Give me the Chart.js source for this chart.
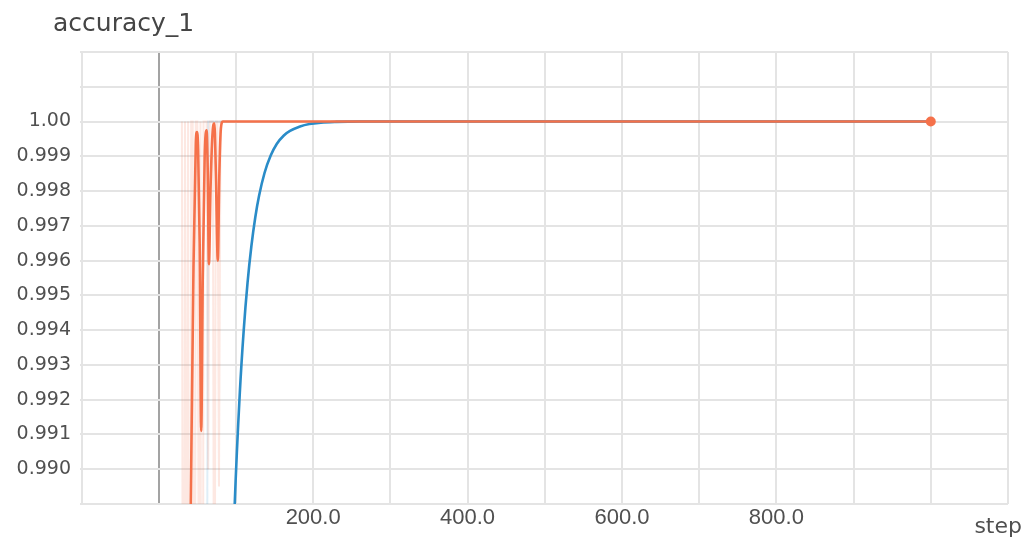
<!DOCTYPE html>
<html>
<head>
<meta charset="utf-8">
<script src="https://cdn.jsdelivr.net/npm/chart.js@4.4.1/dist/chart.umd.min.js"></script>
<style>
html,body{margin:0;padding:0;background:#fff;overflow:hidden}
#wrap{width:1030px;height:543px;position:relative}
</style>
</head>
<body>
<div id="wrap"><canvas id="c" width="1030" height="543"></canvas></div>
<script>
// ---- data ----
const chartTitle = 'accuracy_1';
const xAxisLabel = 'step';

// smoothed orange run
const redSteps  = [36, 41.5, 45, 48, 49.5, 51, 53, 55, 57, 59.5, 62, 63.5, 65, 67, 69.5, 72, 74, 76.5, 78.5, 80.5, 83, 90, 100, 200, 300, 400, 500, 600, 700, 800, 900, 1000];
const redValues = [0.978, 0.989, 0.9958, 0.9994, 0.9997, 0.9992, 0.9965, 0.9911, 0.9955, 0.9990, 0.99975, 0.9985, 0.9959, 0.9980, 0.9996, 0.99995, 0.9985, 0.9960, 0.9985, 0.9998, 1.0, 1.0, 1.0, 1.0, 1.0, 1.0, 1.0, 1.0, 1.0, 1.0, 1.0, 1.0];

// smoothed blue run
const blueSteps  = [80, 90, 98.4, 105, 110, 115, 120, 125, 130, 137, 145, 153, 162, 170, 183, 195, 210, 230, 260, 300, 400, 500, 600, 700, 800, 900, 1000];
const blueValues = [0.9715, 0.9830, 0.9890, 0.99220, 0.99398, 0.99536, 0.99642, 0.99724, 0.99787, 0.99852, 0.99902, 0.99936, 0.99960, 0.99973, 0.99986, 0.99993, 0.99997, 0.99999, 1.0, 1.0, 1.0, 1.0, 1.0, 1.0, 1.0, 1.0, 1.0];

// faint raw values
const rawRedSteps  = [30, 32, 34, 36, 38, 40, 42, 44, 46, 48, 50, 52, 54, 56, 58, 60, 62, 64, 66, 68, 70, 72, 74, 76, 78, 80, 82, 84];
const rawRedValues = [1.0, 0.97, 1.0, 0.98, 1.0, 0.96, 1.0, 1.0, 0.97, 1.0, 1.0, 0.985, 1.0, 0.95, 1.0, 1.0, 1.0, 0.99, 1.0, 1.0, 1.0, 0.98, 1.0, 1.0, 0.9895, 1.0, 1.0, 1.0];
const rawBlueSteps  = [56, 60, 64, 68, 100, 1000];
const rawBlueValues = [0.95, 0.96, 1.0, 1.0, 1.0, 1.0];

// axis ticks / labels
const xGridSteps  = [-100, 0, 100, 200, 300, 400, 500, 600, 700, 800, 900, 1000, 1100];
const xTickLabels = [200, 400, 600, 800];
const yTickLabels = [0.990, 0.991, 0.992, 0.993, 0.994, 0.995, 0.996, 0.997, 0.998, 0.999, 1.000];

const orange = '#f5714a';
const blue = '#2a8cc8';

function pts(xs, ys){ return xs.map((x,i)=>({x:x, y:ys[i]})); }

const layoutTweaks = {
  id: 'layoutTweaks',
  afterLayout(chart){
    const t = chart.titleBlock;
    if (t) { t.left = 53; }
  },
  afterDraw(chart){
    const ctx = chart.ctx;
    ctx.save();
    ctx.font = '22px "DejaVu Sans", sans-serif';
    ctx.fillStyle = '#505050';
    ctx.textAlign = 'right';
    ctx.textBaseline = 'alphabetic';
    ctx.fillText(xAxisLabel, 1022, 533);
    ctx.restore();
  }
};

function xLabel(v){
  const r = Math.round(Number(v));
  if (Math.abs(Number(v) - r) < 1e-6 && xTickLabels.indexOf(r) >= 0) return r.toFixed(1);
  return '';
}
function yLabel(v){
  const hit = yTickLabels.find(t => Math.abs(t - v) < 1e-7);
  if (hit === undefined) return '';
  return Math.abs(hit - 1) < 1e-7 ? '1.00' : hit.toFixed(3);
}

new Chart(document.getElementById('c'), {
  type: 'line',
  data: {
    datasets: [
      {
        label: 'run_orange',
        data: pts(redSteps, redValues),
        borderColor: orange,
        backgroundColor: orange,
        borderWidth: 2.6,
        cubicInterpolationMode: 'monotone',
        pointRadius: ctx => ctx.dataIndex === redSteps.length - 1 ? 5 : 0,
        pointBorderWidth: 0,
        pointHoverRadius: 0
      },
      {
        label: 'run_blue',
        data: pts(blueSteps, blueValues),
        borderColor: blue,
        backgroundColor: blue,
        borderWidth: 2.6,
        cubicInterpolationMode: 'monotone',
        pointRadius: 0
      },
      {
        label: 'run_orange_raw',
        data: pts(rawRedSteps, rawRedValues),
        borderColor: 'rgba(245,113,74,0.16)',
        borderWidth: 2,
        pointRadius: 0
      },
      {
        label: 'run_blue_raw',
        data: pts(rawBlueSteps, rawBlueValues),
        borderColor: 'rgba(42,140,200,0.15)',
        borderWidth: 2,
        pointRadius: 0
      }
    ]
  },
  options: {
    responsive: false,
    animation: false,
    events: [],
    layout: { padding: { left: 0, right: 22, top: 0, bottom: 0 } },
    plugins: {
      legend: { display: false },
      tooltip: { enabled: false },
      title: {
        display: true,
        text: chartTitle,
        align: 'start',
        color: '#454545',
        font: { family: '"DejaVu Sans", sans-serif', size: 25, weight: 'normal', lineHeight: 1.2 },
        padding: { top: 9, bottom: 13 }
      }
    },
    scales: {
      x: {
        type: 'linear',
        min: -102,
        max: 1100,
        afterFit: s => { s.height = 39; },
        afterBuildTicks: s => { s.ticks = xGridSteps.map(v => ({ value: v })); },
        border: { display: false },
        grid: {
          drawTicks: false,
          color: c => (c.tick && c.tick.value === 0) ? '#a3a3a3' : '#e4e4e4',
          lineWidth: 2
        },
        ticks: {
          autoSkip: false,
          maxRotation: 0,
          minRotation: 0,
          padding: 1,
          color: '#505050',
          font: { family: 'Liberation Sans, Arial, sans-serif', size: 22 },
          callback: xLabel
        }
      },
      y: {
        type: 'linear',
        min: 0.989,
        max: 1.002,
        afterFit: s => { s.width = 80; },
        border: { display: false },
        grid: {
          drawTicks: false,
          color: '#e4e4e4',
          lineWidth: 2
        },
        ticks: {
          stepSize: 0.001,
          autoSkip: false,
          padding: 9,
          color: '#505050',
          font: { family: '"DejaVu Sans", sans-serif', size: 19 },
          callback: yLabel
        }
      }
    }
  },
  plugins: [layoutTweaks]
});
</script>
</body>
</html>
